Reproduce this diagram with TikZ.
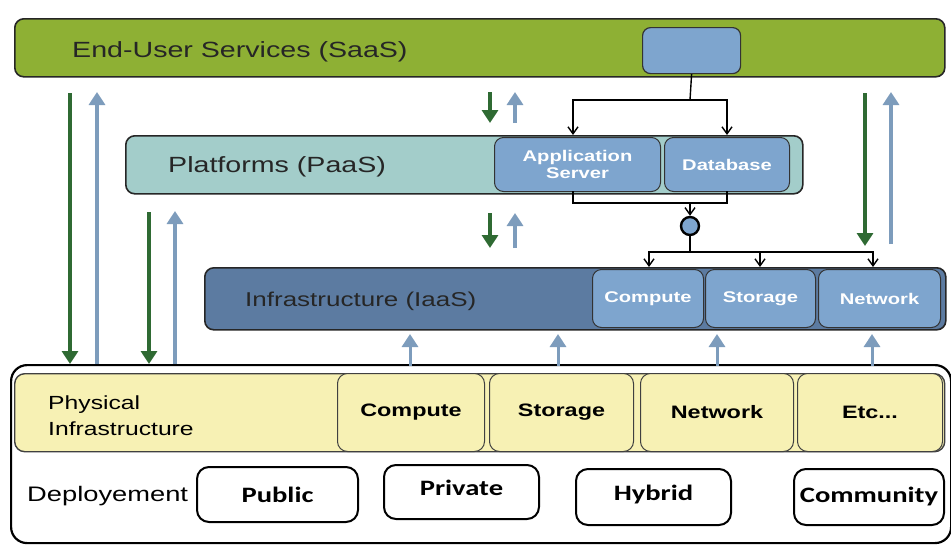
\documentclass[tikz,border=0pt]{standalone}
\usepackage{fontspec}
\setmainfont{Liberation Sans}[FakeStretch=1.3]
\newfontfamily\depfont{Carlito}[FakeStretch=1.3]
\usetikzlibrary{arrows.meta}
\definecolor{saas}{HTML}{8EB034}
\definecolor{paas}{HTML}{A3CDCA}
\definecolor{iaas}{HTML}{5C7BA1}
\definecolor{sub}{HTML}{7EA5CE}
\definecolor{phys}{HTML}{F7F1B4}
\definecolor{garrow}{HTML}{2F6A33}
\definecolor{barrow}{HTML}{7D9CBC}
\tikzset{
  layer/.style={draw=black!85, line width=1.6pt, rounded corners=9pt, inner sep=0pt},
  subbox/.style={draw=black!80, line width=1pt, rounded corners=9pt, fill=sub, inner sep=0pt, text=white, font=\bfseries\fontsize{15.5}{16.5}\selectfont, align=center},
  physbox/.style={draw=black!75, line width=1pt, rounded corners=10pt, fill=phys, inner sep=0pt, font=\bfseries\fontsize{18}{20}\selectfont},
  depbox/.style={draw=black, line width=2pt, rounded corners=12pt, inner sep=0pt, font=\depfont\bfseries\fontsize{22}{24}\selectfont},
  conn/.style={draw=black, line width=1.4pt, -{Straight Barb[length=7pt,width=10pt,line width=1.4pt]}},
  plain/.style={draw=black, line width=1.4pt},
  gdown/.style={draw=garrow, line width=3.6pt, -{Triangle[length=13pt,width=16pt]}},
  bup/.style={draw=barrow, line width=3.6pt, -{Triangle[length=13pt,width=16pt]}},
  lbl/.style={anchor=base west, inner sep=0pt, font=\fontsize{22}{26}\selectfont, text=black!85},
}
\begin{document}
\begin{tikzpicture}[x=1pt,y=-1pt]
\useasboundingbox (0,0) rectangle (951,544);
\fill[white] (0,0) rectangle (951,544);

% outer bottom box
\node[draw=black, line width=2.2pt, rounded corners=16pt, minimum width=940pt, minimum height=178pt, anchor=north west, inner sep=0pt] (outer) at (10,364) {};

% SaaS
\node[layer, fill=saas, minimum width=930pt, minimum height=58pt, anchor=north west] (saas) at (14,18) {};
\node[lbl] (saastxt) at (72,57) {End-User Services (SaaS)};
\node[draw=black!80, line width=1.2pt, rounded corners=8pt, fill=sub, minimum width=98pt, minimum height=46pt, anchor=north west, inner sep=0pt] (app) at (642,27) {};

% PaaS
\node[layer, fill=paas, minimum width=677pt, minimum height=58pt, anchor=north west] (paas) at (125,135) {};
\node[lbl] (paastxt) at (168,172) {Platforms (PaaS)};
\node[subbox, minimum width=166pt, minimum height=54pt, anchor=north west] (appsrv) at (494,137) {Application\\Server};
\node[subbox, minimum width=125pt, minimum height=54pt, anchor=north west] (db) at (664,137) {Database};

% IaaS
\node[layer, fill=iaas, minimum width=741pt, minimum height=62pt, anchor=north west] (iaas) at (204,267) {};
\node[lbl, font=\fontsize{20}{24}\selectfont] (iaastxt) at (245,306) {Infrastructure (IaaS)};
\node[subbox, minimum width=111pt, minimum height=58pt, anchor=north west] (icomp) at (592,269) {Compute};
\node[subbox, minimum width=110pt, minimum height=58pt, anchor=north west] (istor) at (705,269) {Storage};
\node[subbox, minimum width=122pt, minimum height=58pt, anchor=north west] (inet) at (818,269) {Network};

% Physical
\node[draw=black!75, line width=1.4pt, rounded corners=10pt, fill=phys, minimum width=930pt, minimum height=78pt, anchor=north west, inner sep=0pt] (phys) at (14,373) {};
\node[anchor=base west, inner sep=0pt, font=\fontsize{19}{19}\selectfont] (phys1) at (48,409) {Physical};
\node[anchor=base west, inner sep=0pt, font=\fontsize{19}{19}\selectfont] (phys2) at (48,435) {Infrastructure};
\node[physbox, minimum width=147pt, minimum height=78pt, anchor=north west] (pcomp) at (337,373) {Compute};
\node[physbox, minimum width=144pt, minimum height=78pt, anchor=north west] (pstor) at (489,373) {Storage};
\node[physbox, minimum width=153pt, minimum height=78pt, anchor=north west] (pnet) at (640,373) {Network};
\node[physbox, minimum width=145pt, minimum height=78pt, anchor=north west] (petc) at (797,373) {Etc...};

% Deployment
\node[anchor=base west, inner sep=0pt, font=\fontsize{21}{21}\selectfont] (dep) at (27,501) {Deployement};
\node[depbox, minimum width=161pt, minimum height=55pt, anchor=north west] (pub) at (196,466) {Public};
\node[depbox, minimum width=155pt, minimum height=54pt, anchor=north west, text depth=8pt] (priv) at (383,464) {Private};
\node[depbox, minimum width=155pt, minimum height=56pt, anchor=north west, text depth=8pt] (hyb) at (575,468) {Hybrid};
\node[depbox, minimum width=150pt, minimum height=56pt, anchor=north west] (comm) at (793,468) {Community};

% connectors SaaS -> PaaS
\coordinate (j1) at (690,100);
\draw[plain] (app.south) -- (j1);
\draw[conn] (j1) -| (573,135);
\draw[conn] (j1) -| (727,135);
% bracket PaaS -> circle
\coordinate (b1) at (573,191);
\coordinate (b2) at (727,191);
\draw[plain] (b1) |- (690,203) -| (b2);
\node[circle, draw=black, line width=2.4pt, fill=sub, minimum size=18pt, inner sep=0pt] (dot) at (690,226) {};
\draw[conn] (690,203) -- (dot.north);
\coordinate (j2) at (690,252);
\draw[plain] (dot.south) -- (j2);
\draw[conn] (j2) -| (649,267);
\draw[conn] (j2) -| (760,267);
\draw[conn] (j2) -| (873,267);

% green / blue arrows
\draw[gdown] (70,93) -- (70,364);
\draw[bup] (97,364) -- (97,92);
\draw[gdown] (149,212) -- (149,364);
\draw[bup] (175,364) -- (175,211);
\draw[gdown] (865,93) -- (865,246);
\draw[bup] (891,244) -- (891,92);
\draw[gdown] (490,92) -- (490,123);
\draw[bup] (515,123) -- (515,92);
\draw[gdown] (490,213) -- (490,248);
\draw[bup] (515,248) -- (515,213);

% up arrows to IaaS
\foreach \x in {410, 558, 717, 872}
  \draw[bup, line width=3pt] (\x,366) -- (\x,334);
\end{tikzpicture}
\end{document}
